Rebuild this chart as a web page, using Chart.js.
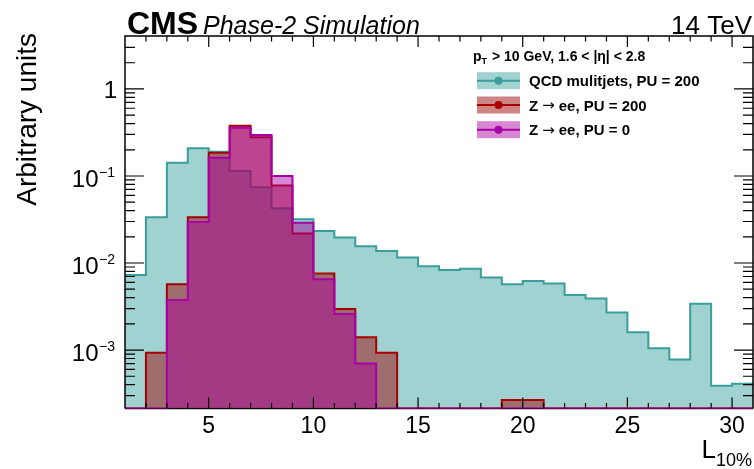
<!DOCTYPE html>
<html>
<head>
<meta charset="utf-8">
<script src="https://cdn.jsdelivr.net/npm/chart.js@4.4.0/dist/chart.umd.min.js"></script>
<style>
  body { margin: 0; background: #fff; }
  canvas { display: block; }
</style>
</head>
<body>
<canvas id="l10Chart" width="754" height="469"></canvas>
<script>
// bin lower edges of L_10% (bin width 1)
const binLow = [1, 2, 3, 4, 5, 6, 7, 8, 9, 10, 11, 12, 13, 14, 15,
                16, 17, 18, 19, 20, 21, 22, 23, 24, 25, 26, 27, 28, 29, 30];
const binWidth = 1;

const qcdPU200 = [0.0073, 0.0335, 0.142, 0.208, 0.19, 0.114, 0.074, 0.0425, 0.0318, 0.0233,
                  0.0196, 0.0156, 0.0137, 0.0116, 0.0092, 0.0083, 0.0086, 0.0068, 0.0057, 0.0062,
                  0.0058, 0.0043, 0.0039, 0.0027, 0.0016, 0.00105, 0.00078, 0.0034, 0.00039, 0.00041];
const zeePU200 = [0, 0.00093, 0.0057, 0.0335, 0.185, 0.379, 0.278, 0.078, 0.0219, 0.0076,
                  0.00296, 0.0014, 0.00093, 0, 0, 0, 0, 0, 0.000266, 0.000266,
                  0, 0, 0, 0, 0, 0, 0, 0, 0, 0];
const zeePU0 = [0, 0, 0.00376, 0.0296, 0.162, 0.359, 0.296, 0.1, 0.029, 0.0065,
                0.0026, 0.0007, 0, 0, 0, 0, 0, 0, 0, 0,
                0, 0, 0, 0, 0, 0, 0, 0, 0, 0];

// legend text split around the arrow: [before, after]
const seriesNames = [['QCD mulitjets, PU = 200', ''], ['Z', 'ee, PU = 200'], ['Z', 'ee, PU = 0']];
const xTickLabels = [5, 10, 15, 20, 25, 30];
const yDecades = [1, 0.1, 0.01, 0.001];
const yDecadeLabels = [['1', ''], ['10', '\u22121'], ['10', '\u22122'], ['10', '\u22123']];

const xMin = 1, xMax = 31;
const yMin = 2.13e-4, yMax = 4.06;

const FONT = '"Liberation Sans", Arial, Helvetica, sans-serif';
const lineColors = ['#3a9e9c', '#a80000', '#a800a8'];
const fillColors = ['rgba(64,166,164,0.5)', 'rgba(160,10,10,0.5)', 'rgba(170,0,160,0.47)'];

// histogram as step points: one point per lower edge plus the last upper edge
// empty bins sit on the bottom of the log axis
function toSteps(values) {
    const pts = binLow.map((x, i) => ({ x: x, y: Math.max(values[i], yMin) }));
    const last = values.length - 1;
    pts.push({ x: binLow[last] + binWidth, y: Math.max(values[last], yMin) });
    return pts;
}

const cmsDecor = {
    id: 'cmsDecor',
    beforeDatasetsDraw(chart) {
        const { ctx, chartArea: a } = chart;
        ctx.save();
        ctx.strokeStyle = '#000';
        ctx.lineWidth = 1.5;
        ctx.beginPath();
        ctx.moveTo(a.left, a.bottom);
        ctx.lineTo(a.right, a.bottom);
        ctx.stroke();
        ctx.restore();
    },
    afterDatasetsDraw(chart) {
        const { ctx, chartArea: a, scales: { x, y } } = chart;
        ctx.save();
        ctx.strokeStyle = '#000';
        ctx.lineWidth = 1.5;
        ctx.beginPath();
        ctx.moveTo(a.left, a.bottom);
        ctx.lineTo(a.left, a.top);
        ctx.lineTo(a.right, a.top);
        ctx.lineTo(a.right, a.bottom);
        ctx.stroke();

        ctx.lineWidth = 1.2;
        ctx.beginPath();
        for (let v = Math.ceil(x.min); v <= x.max; v++) {
            const px = x.getPixelForValue(v);
            if (px < a.left + 1 || px > a.right - 1) continue;
            const len = v % 5 === 0 ? 11 : 5.5;
            ctx.moveTo(px, a.bottom);
            ctx.lineTo(px, a.bottom - len);
            ctx.moveTo(px, a.top);
            ctx.lineTo(px, a.top + len);
        }
        for (let e = -4; e <= 0; e++) {
            for (let m = 1; m <= 9; m++) {
                const v = m * Math.pow(10, e);
                if (v < y.min || v > y.max) continue;
                const py = y.getPixelForValue(v);
                if (py < a.top + 1 || py > a.bottom - 1) continue;
                const len = m === 1 ? 19 : 10;
                ctx.moveTo(a.left, py);
                ctx.lineTo(a.left + len, py);
                ctx.moveTo(a.right, py);
                ctx.lineTo(a.right - len, py);
            }
        }
        ctx.stroke();
        ctx.restore();
    },
    afterDraw(chart) {
        const { ctx, scales: { x, y } } = chart;
        ctx.save();
        ctx.fillStyle = '#000';
        ctx.textBaseline = 'alphabetic';

        // header
        ctx.textAlign = 'left';
        ctx.font = 'bold 32px ' + FONT;
        ctx.fillText('CMS', 127, 33.5);
        ctx.font = 'italic 25px ' + FONT;
        ctx.fillText('Phase-2 Simulation', 203, 33.5);
        ctx.textAlign = 'right';
        ctx.font = '26px ' + FONT;
        ctx.fillText('14 TeV', 752, 33.5);

        // y title
        ctx.save();
        ctx.translate(36, 33);
        ctx.rotate(-Math.PI / 2);
        ctx.textAlign = 'right';
        ctx.font = '28px ' + FONT;
        ctx.fillText('Arbitrary units', 0, 0);
        ctx.restore();

        // y tick labels
        ctx.textAlign = 'right';
        yDecades.forEach((v, i) => {
            const py = y.getPixelForValue(v);
            const [base, exp] = yDecadeLabels[i];
            if (!exp) {
                ctx.font = '24px ' + FONT;
                ctx.fillText(base, 117, py + 9);
            } else {
                ctx.font = '14px ' + FONT;
                ctx.fillText(exp, 115, py + 1);
                const w = ctx.measureText(exp).width;
                ctx.font = '24px ' + FONT;
                ctx.fillText(base, 115 - w - 0.5, py + 11);
            }
        });

        // x tick labels
        ctx.textAlign = 'center';
        ctx.font = '23px ' + FONT;
        xTickLabels.forEach(v => {
            ctx.fillText(String(v), x.getPixelForValue(v), 432.5);
        });

        // x title
        ctx.textAlign = 'right';
        ctx.font = '18px ' + FONT;
        ctx.fillText('10%', 752, 466);
        const sw = ctx.measureText('10%').width;
        ctx.font = '26px ' + FONT;
        ctx.fillText('L', 752 - sw, 458);

        // legend
        ctx.textAlign = 'left';
        let hx = 473;
        ctx.font = 'bold 14px ' + FONT;
        ctx.fillText('p', hx, 60.5);
        hx += ctx.measureText('p').width;
        ctx.font = 'bold 9px ' + FONT;
        ctx.fillText('T', hx, 64);
        hx += ctx.measureText('T').width + 1;
        ctx.font = 'bold 14px ' + FONT;
        ctx.fillText(' > 10 GeV, 1.6 < |\u03b7| < 2.8', hx, 60.5);

        const rowY = [80.7, 105, 129.7];
        seriesNames.forEach((parts, i) => {
            const cy = rowY[i];
            ctx.fillStyle = fillColors[i];
            ctx.fillRect(477, cy - 8.5, 43, 17);
            ctx.strokeStyle = lineColors[i];
            ctx.lineWidth = 2;
            ctx.beginPath();
            ctx.moveTo(477, cy);
            ctx.lineTo(520, cy);
            ctx.stroke();
            ctx.fillStyle = lineColors[i];
            ctx.beginPath();
            ctx.arc(498.5, cy, 4, 0, Math.PI * 2);
            ctx.fill();

            ctx.fillStyle = '#000';
            let tx = 529;
            ctx.font = 'bold 15px ' + FONT;
            ctx.fillText(parts[0], tx, cy + 5.5);
            if (parts[1]) {
                tx += ctx.measureText(parts[0]).width + 4;
                ctx.font = '15px "DejaVu Sans", sans-serif';
                ctx.fillText('\u2192', tx, cy + 5);
                tx += ctx.measureText('\u2192').width + 4;
                ctx.font = 'bold 15px ' + FONT;
                ctx.fillText(parts[1], tx, cy + 5.5);
            }
        });
        ctx.restore();
    }
};

const seriesValues = [qcdPU200, zeePU200, zeePU0];
const datasets = seriesValues.map((vals, i) => ({
    label: seriesNames[i].join(' \u2192 '),
    data: toSteps(vals),
    stepped: true,
    fill: 'start',
    backgroundColor: fillColors[i],
    borderColor: lineColors[i],
    borderWidth: 2,
    pointRadius: 0,
    order: 3 - i
}));

const ctx = document.getElementById('l10Chart').getContext('2d');
new Chart(ctx, {
    type: 'line',
    data: { datasets: datasets },
    options: {
        responsive: false,
        animation: false,
        layout: { padding: { top: 36, right: 1, left: 0, bottom: 0 } },
        plugins: {
            legend: { display: false },
            tooltip: { enabled: false }
        },
        scales: {
            x: {
                type: 'linear',
                min: xMin,
                max: xMax,
                grid: { display: false, drawTicks: false },
                border: { display: false },
                ticks: { display: false },
                afterFit: s => { s.height = 60.5; }
            },
            y: {
                type: 'logarithmic',
                min: yMin,
                max: yMax,
                grid: { display: false, drawTicks: false },
                border: { display: false },
                ticks: { display: false },
                afterFit: s => { s.width = 125; }
            }
        }
    },
    plugins: [cmsDecor]
});
</script>
</body>
</html>
